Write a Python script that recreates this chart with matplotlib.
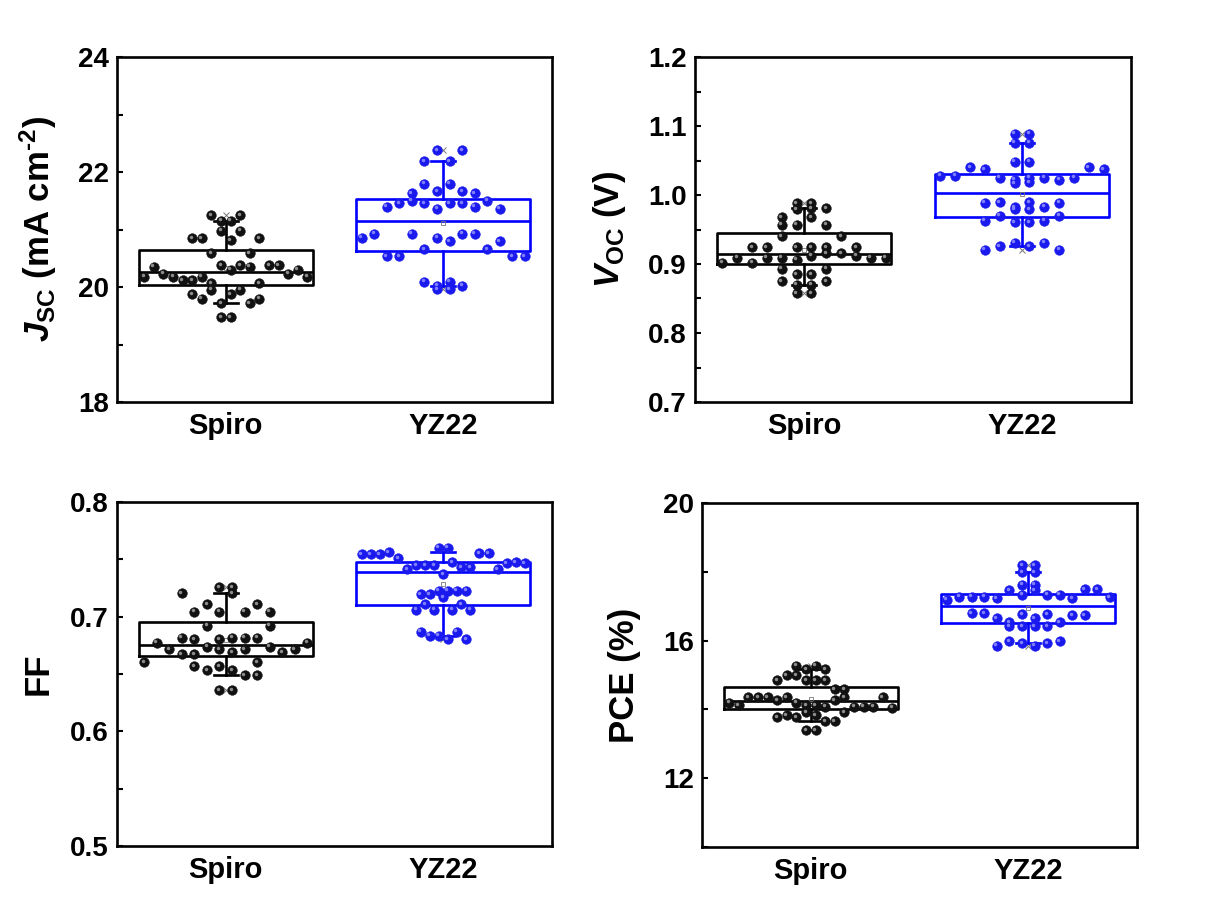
import numpy as np
import matplotlib
matplotlib.use('Agg')
import matplotlib.pyplot as plt
from matplotlib.ticker import MultipleLocator, FormatStrFormatter
from matplotlib.transforms import offset_copy

plt.rcParams['font.family'] = ['Liberation Sans', 'DejaVu Sans']
plt.rcParams['font.weight'] = 'bold'
plt.rcParams['mathtext.fontset'] = 'custom'
plt.rcParams['mathtext.rm'] = 'Liberation Sans:bold'
plt.rcParams['mathtext.it'] = 'Liberation Sans:italic:bold'
plt.rcParams['mathtext.bf'] = 'Liberation Sans:bold'

groups = ['Spiro', 'YZ22']

# ---- data: each group is a list of rows as laid out in the swarm ----
jsc_spiro = [
    [21.25, 21.15, 21.15, 21.25],
    [20.85, 20.85, 20.59, 20.98, 20.81, 20.98, 20.59, 20.85],
    [20.18, 20.35, 20.23, 20.18, 20.12, 20.12, 20.18, 20.07, 20.38,
     20.30, 20.38, 20.35, 20.07, 20.38, 20.38, 20.23, 20.30, 20.18],
    [19.87, 19.80, 19.95, 19.72, 19.87, 19.95, 19.72, 19.80],
    [19.47, 19.47],
]
jsc_yz22 = [
    [22.19, 22.38, 22.19, 22.38],
    [21.63, 21.80, 21.67, 21.80, 21.67, 21.63],
    [21.40, 21.46, 21.50, 21.46, 21.36, 21.46, 21.46, 21.40, 21.50, 21.36],
    [20.86, 20.93, 20.54, 20.54, 20.93, 20.66, 20.86, 20.80, 20.93, 20.93,
     20.66, 20.80, 20.54, 20.54],
    [20.09, 20.02, 20.09, 20.02],
    [19.96, 19.96],
]
voc_spiro = [
    [0.988, 0.988],
    [0.968, 0.979, 0.981, 0.981],
    [0.957, 0.957, 0.968, 0.957],
    [0.902, 0.909, 0.924, 0.924, 0.940, 0.924, 0.924, 0.924, 0.940, 0.924, 0.909, 0.909],
    [0.902, 0.909, 0.909, 0.906, 0.912, 0.916, 0.916, 0.912],
    [0.893, 0.885, 0.885, 0.893],
    [0.875, 0.870, 0.870, 0.875],
    [0.858, 0.858],
]
voc_yz22 = [
    [1.089, 1.089],
    [1.076, 1.076],
    [1.048, 1.048],
    [1.028, 1.028, 1.040, 1.037, 1.025, 1.022, 1.025, 1.025, 1.022, 1.025, 1.040, 1.037],
    [1.017, 1.019],
    [0.989, 0.990, 0.982, 0.990, 0.983, 0.989],
    [0.979, 0.979],
    [0.963, 0.970, 0.961, 0.961, 0.963, 0.970],
    [0.921, 0.926, 0.931, 0.926, 0.931, 0.921],
]
ff_spiro = [
    [0.7256, 0.7256],
    [0.7204, 0.7043, 0.7110, 0.7043, 0.7204, 0.7043, 0.7110, 0.7043],
    [0.6602, 0.6773, 0.6715, 0.6817, 0.6805, 0.6921, 0.6805, 0.6817, 0.6817,
     0.6817, 0.6921, 0.6689, 0.6715, 0.6773],
    [0.6672, 0.6672, 0.6738, 0.6715, 0.6689, 0.6715, 0.6602, 0.6738],
    [0.6570, 0.6535, 0.6570, 0.6535, 0.6491, 0.6491],
    [0.6360, 0.6360],
]
ff_yz22 = [
    [0.7602, 0.7602],
    [0.7544, 0.7544, 0.7544, 0.7561, 0.7509, 0.7413, 0.7451, 0.7451, 0.7451, 0.7369,
     0.7474, 0.7431, 0.7431, 0.7553, 0.7553, 0.7413, 0.7465, 0.7474, 0.7465],
    [0.7198, 0.7198, 0.7226, 0.7226, 0.7226, 0.7226],
    [0.706, 0.711, 0.706, 0.717, 0.706, 0.711, 0.706],
    [0.6869, 0.6834, 0.6834, 0.6803, 0.6869, 0.6803],
]
pce_spiro = [
    [15.27, 15.17, 15.27, 15.17],
    [14.85, 15.00, 15.00, 14.85, 14.85, 14.85, 14.59, 14.59],
    [14.20, 14.13, 14.36, 14.36, 14.36, 14.27, 14.36, 14.20, 14.13, 14.13,
     14.08, 14.27, 14.35, 14.08, 14.08, 14.08, 14.36, 14.05],
    [13.78, 13.84, 13.78, 13.91, 13.84, 13.66, 13.66, 13.91],
    [13.39, 13.39],
]
pce_yz22 = [
    [18.19, 18.19],
    [17.99, 17.99],
    [17.63, 17.63],
    [17.19, 17.28, 17.28, 17.28, 17.24, 17.46, 17.33, 17.46, 17.33, 17.33,
     17.24, 17.49, 17.49, 17.26],
    [16.80, 16.80, 16.66, 16.53, 16.76, 16.66, 16.76, 16.53, 16.73, 16.73],
    [16.42, 16.42, 16.42, 16.42],
    [15.85, 15.98, 15.93, 15.85, 15.93, 15.98],
]

panels = [
    dict(data=(jsc_spiro, jsc_yz22), ylim=(18, 24), major=2, minor=1, fmt='%d',
         ylabel='$\\mathit{J}_{\\mathrm{SC}}$ (mA cm$^{\\mathrm{\u2010}2}$)', lx=-0.182),
    dict(data=(voc_spiro, voc_yz22), ylim=(0.7, 1.2), major=0.1, minor=0.05, fmt='%.1f',
         ylabel=r'$\mathit{V}_{\mathrm{OC}}$ (V)', lx=-0.197),
    dict(data=(ff_spiro, ff_yz22), ylim=(0.5, 0.8), major=0.1, minor=0.05, fmt='%.1f',
         ylabel='FF', lx=-0.182),
    dict(data=(pce_spiro, pce_yz22), ylim=(10, 20), major=4, minor=2, fmt='%d',
         ylabel='PCE (%)', lx=-0.179),
]

W, H = 1210, 919
rects_px = [(117, 57, 552, 402), (695, 57, 1131, 402),
            (117, 502, 552, 846), (702, 503, 1137, 847)]

colors = ['#000000', '#0000ff']
dot_colors = ['#111111', '#1a1aee']
hi_colors = ['#9a9a9a', '#8c8cff']

fig = plt.figure(figsize=(W / 100, H / 100), dpi=100)
fig.patch.set_facecolor('white')

for p, (l, t, r, b) in zip(panels, rects_px):
    ax = fig.add_axes([l / W, 1 - b / H, (r - l) / W, (b - t) / H])
    positions = [1, 2]
    flat = [np.concatenate([np.asarray(row, float) for row in g]) for g in p['data']]
    for i, (vals, col) in enumerate(zip(flat, colors)):
        ax.boxplot([vals], positions=[positions[i]], widths=0.8, whis=(5, 95),
                   showfliers=False, showmeans=True, patch_artist=False,
                   capwidths=0.11,
                   boxprops=dict(color=col, linewidth=1.9),
                   medianprops=dict(color=col, linewidth=1.9),
                   whiskerprops=dict(color=col, linewidth=1.9),
                   capprops=dict(color=col, linewidth=1.9),
                   meanprops=dict(marker='s', markersize=3.5, markerfacecolor='none',
                                  markeredgecolor='#777777', markeredgewidth=0.6),
                   zorder=2)
        # 1% / 99% marks
        ext = np.percentile(vals, [1, 99])
        ax.plot([positions[i]] * 2, ext, linestyle='none', marker='x', markersize=4,
                color='#777777', markeredgewidth=0.7, zorder=2.5)
        # swarm points laid out row by row
        rows = p['data'][i]
        nmax = max(len(rw) for rw in rows)
        step = 0.75 / (nmax - 1)
        xs, ys = [], []
        for rw in rows:
            n = len(rw)
            off = (np.arange(n) - (n - 1) / 2) * step
            xs.extend(positions[i] + off)
            ys.extend(rw)
        ax.plot(xs, ys, linestyle='none', marker='o', markersize=7.0,
                markerfacecolor=dot_colors[i], markeredgecolor=dot_colors[i],
                markeredgewidth=0.3, zorder=3)
        tr = offset_copy(ax.transData, fig=fig, x=-1.0, y=1.0, units='points')
        ax.plot(xs, ys, linestyle='none', marker='o', markersize=2.5,
                markerfacecolor=hi_colors[i], markeredgecolor='none', alpha=0.9,
                transform=tr, zorder=4)

    ax.set_xlim(0.5, 2.5)
    ax.set_ylim(*p['ylim'])
    ax.set_xticks(positions)
    ax.set_xticklabels(groups, fontsize=21, fontweight='bold')
    ax.yaxis.set_major_locator(MultipleLocator(p['major']))
    ax.yaxis.set_minor_locator(MultipleLocator(p['minor']))
    ax.yaxis.set_major_formatter(FormatStrFormatter(p['fmt']))
    ax.tick_params(axis='y', which='both', direction='in', length=4.5, width=1.5,
                   labelsize=20, pad=6)
    ax.tick_params(axis='x', which='both', length=0, pad=7)
    for lab in ax.get_yticklabels():
        lab.set_fontweight('bold')
    for sp in ax.spines.values():
        sp.set_linewidth(1.9)
    ax.text(p['lx'], 0.5, p['ylabel'], transform=ax.transAxes, rotation=90,
            ha='center', va='center', fontsize=25, fontweight='bold')

fig.savefig('out.png', dpi=100, facecolor='white')
